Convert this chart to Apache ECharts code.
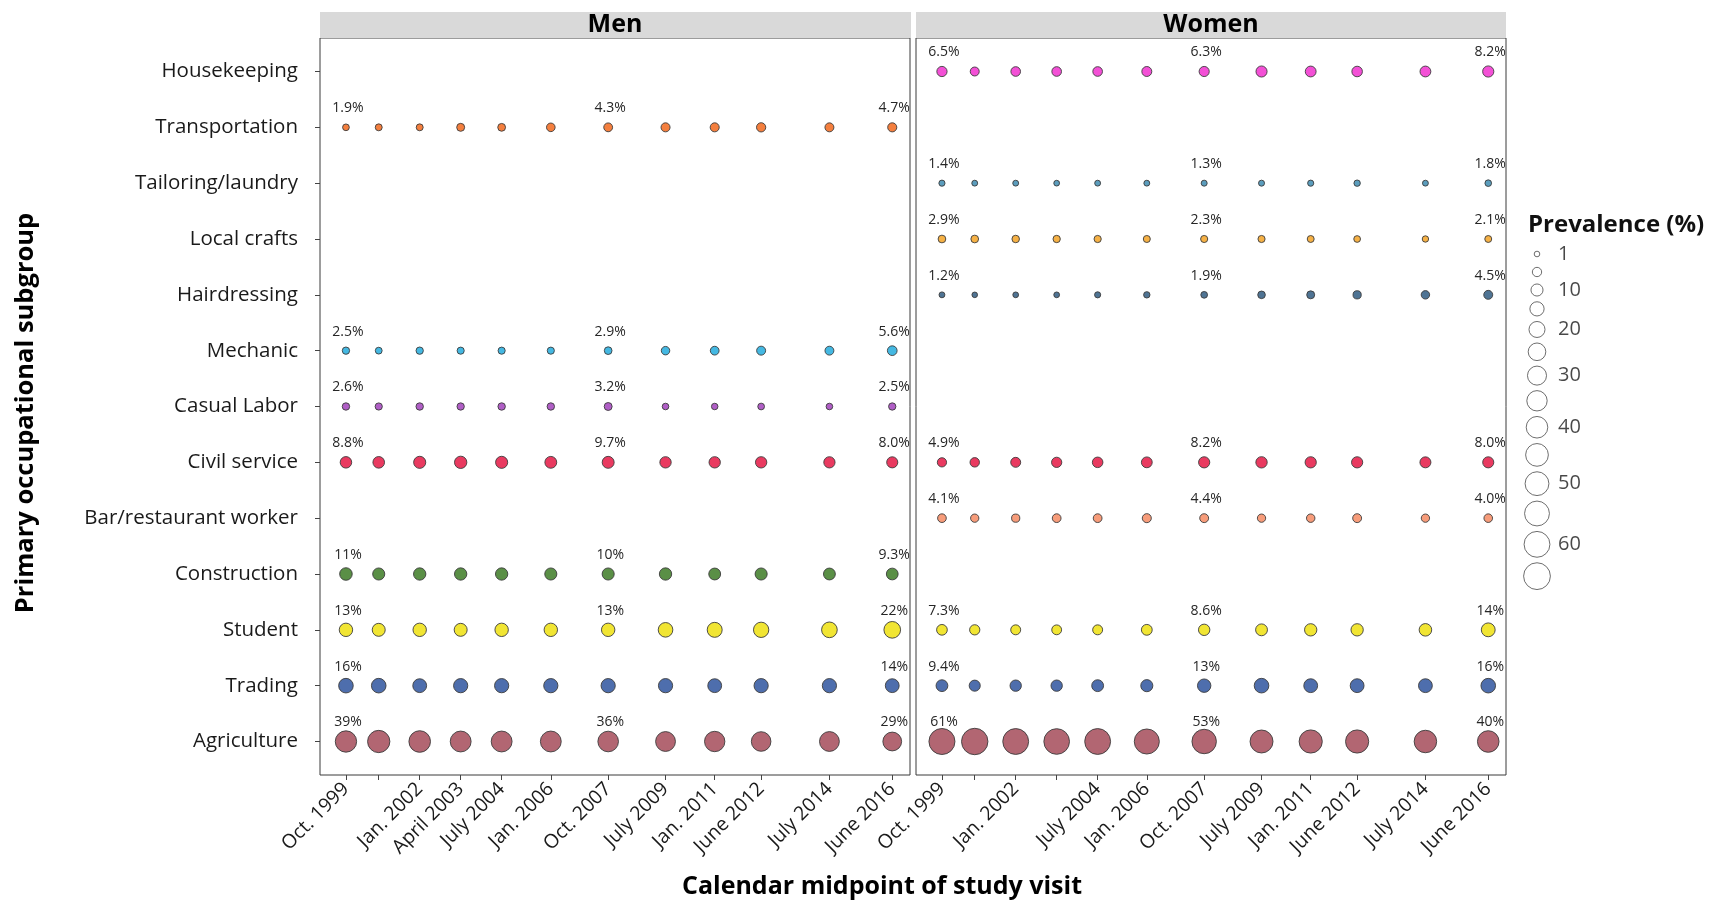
<!DOCTYPE html>
<html><head><meta charset="utf-8">
<script src="https://cdn.jsdelivr.net/npm/echarts@6/dist/echarts.min.js"></script>
<style>html,body{margin:0;padding:0;background:#fff}#c{width:1727px;height:908px}</style>
</head><body><div id="c"></div>
<script>
// ---------------- data ----------------
const categories = ['Housekeeping','Transportation','Tailoring/laundry','Local crafts','Hairdressing','Mechanic','Casual Labor','Civil service','Bar/restaurant worker','Construction','Student','Trading','Agriculture'];
const visitDates = ['1999-10','2000-10','2002-01','2003-04','2004-07','2006-01','2007-10','2009-07','2011-01','2012-06','2014-07','2016-06'];
const menTickLabels   = ['Oct. 1999','','Jan. 2002','April 2003','July 2004','Jan. 2006','Oct. 2007','July 2009','Jan. 2011','June 2012','July 2014','June 2016'];
const womenTickLabels = ['Oct. 1999','','Jan. 2002','','July 2004','Jan. 2006','Oct. 2007','July 2009','Jan. 2011','June 2012','July 2014','June 2016'];
const legendValues = [1,5,10,15,20,25,30,35,40,45,50,55,60,65];
const legendLabelValues = [1,10,20,30,40,50,60];

// Men (prevalence %, one value per visit)
const menTransportation = [1.9,2.1,2.1,3.2,3.0,4.0,4.3,4.6,4.6,4.9,4.5,4.7];
const menMechanic       = [2.5,2.0,2.5,2.3,2.3,2.3,2.9,3.8,4.2,4.5,4.4,5.6];
const menCasualLabor    = [2.6,2.4,2.6,2.5,2.6,2.6,3.2,1.8,1.7,1.9,1.8,2.5];
const menCivilService   = [8.8,9.0,10.0,10.5,10.0,9.5,9.7,8.5,8.5,8.5,8.3,8.0];
const menConstruction   = [11,10,10.5,10.5,10.5,10,10,10.5,9.5,10,9.5,9.3];
const menStudent        = [13,12,13,12,13,13,13,16,17,18,19,22];
const menTrading        = [16,16,14,15,15,15,15,15,14,15,15,14];
const menAgriculture    = [39,43,40,37,37,37,36,33,35,32,33,29];

// Women
const womenHousekeeping  = [6.5,4.5,5.5,5.5,5.5,6.0,6.3,8.0,7.5,7.0,7.5,8.2];
const womenTailoring     = [1.4,1.2,1.2,1.1,1.2,1.2,1.3,1.3,1.4,1.6,1.2,1.8];
const womenLocalCrafts   = [2.9,2.9,2.7,2.5,2.4,2.2,2.3,2.3,2.1,1.9,1.6,2.1];
const womenHairdressing  = [1.2,1.0,1.1,1.1,1.4,1.6,1.9,2.8,3.2,3.5,3.8,4.5];
const womenCivilService  = [4.9,5.2,6.0,6.5,7.0,7.5,8.2,8.5,8.3,8.2,7.8,8.0];
const womenBarRestaurant = [4.1,3.6,3.5,4.2,4.2,4.6,4.4,3.6,3.8,4.4,3.6,4.0];
const womenStudent       = [7.3,6.5,6.0,5.8,6.0,7.5,8.6,9.5,10.5,10.5,11,14];
const womenTrading       = [9.4,8.0,8.5,8.5,9.5,10,13,16,14,14,14,16];
const womenAgriculture   = [61,63,60,59,60,56,53,46,47,47,44,40];

// which visits carry a value label
const defaultLabelVisits = [0,6,11];
const menTradingLabelVisits = [0,11];

const menRows = [
  ['Transportation', menTransportation],
  ['Mechanic', menMechanic],
  ['Casual Labor', menCasualLabor],
  ['Civil service', menCivilService],
  ['Construction', menConstruction],
  ['Student', menStudent],
  ['Trading', menTrading, menTradingLabelVisits],
  ['Agriculture', menAgriculture]
];
const womenRows = [
  ['Housekeeping', womenHousekeeping],
  ['Tailoring/laundry', womenTailoring],
  ['Local crafts', womenLocalCrafts],
  ['Hairdressing', womenHairdressing],
  ['Civil service', womenCivilService],
  ['Bar/restaurant worker', womenBarRestaurant],
  ['Student', womenStudent],
  ['Trading', womenTrading],
  ['Agriculture', womenAgriculture]
];

// ---------------- styles ----------------
const colors = {
  'Housekeeping':'#f350d6','Transportation':'#f47f3e','Tailoring/laundry':'#5b9dbd','Local crafts':'#f6b145',
  'Hairdressing':'#4f7494','Mechanic':'#44b8e2','Casual Labor':'#b05ec6','Civil service':'#e93a60',
  'Bar/restaurant worker':'#f79c7a','Construction':'#5a8f46','Student':'#f1e533','Trading':'#4e6ead','Agriculture':'#b26672'
};
const FONT = "'Open Sans', 'Noto Sans', sans-serif";
const TXT = '#1a1a1a';

function decYear(s){ const p = s.split('-').map(Number); return p[0] + (p[1]-0.5)/12; }
const xs = visitDates.map(decYear);
function sizeOf(v){ return 2.6 + 3.0*Math.sqrt(v); }
function fmt(v){ return v < 10 ? v.toFixed(1) + '%' : Math.round(v) + '%'; }
function tickLabelFor(labels){
  return function(val){
    for (let i = 0; i < xs.length; i++) if (Math.abs(xs[i]-val) < 1e-6) return labels[i];
    return '';
  };
}

function makeSeries(idx, cat, values, labelVisits){
  const lv = labelVisits || defaultLabelVisits;
  return {
    type:'scatter', xAxisIndex:idx, yAxisIndex:idx, name:cat, animation:false,
    data: values.map((v,i)=>({value:[xs[i], categories.indexOf(cat), v], label:{show: lv.indexOf(i) >= 0}})),
    symbolSize: d => sizeOf(d[2]),
    itemStyle:{color:colors[cat], borderColor:'#3c3c3c', borderWidth:0.9, opacity:1},
    label:{position:'inside', offset:[2,-19], formatter: p => fmt(p.value[2]),
      fontFamily:FONT, fontSize:14, color:'#262626', textBorderWidth:0},
    emphasis:{disabled:true}, silent:true
  };
}

// legend key layout (ggplot-style key heights grow with symbol size)
const keyH = legendValues.map(v => Math.max(18, sizeOf(v) + 5.5));
const keyPos = []; { let acc = 0; keyH.forEach((h,i)=>{ keyPos.push(acc + h/2); acc += h; }); }
const keyTotal = keyH.reduce((a,b)=>a+b,0);

function panelX(idx, labels){
  const labelVals = xs.filter((x,i)=>labels[i] !== '');
  return {
    type:'value', gridIndex:idx, min:1999, max:2017, scale:false, position:'bottom',
    axisLine:{show:false, onZero:false}, splitLine:{show:false},
    axisTick:{show:true, customValues: xs, length:5, lineStyle:{color:'#444', width:1}},
    axisLabel:{show:true, customValues: labelVals, formatter: tickLabelFor(labels), rotate:45,
      fontFamily:FONT, fontSize:19.5, color:TXT, margin:11}
  };
}
function panelY(idx, showLabels){
  const vals = categories.map((c,i)=>i);
  return {
    type:'value', gridIndex:idx, min:-0.6, max:12.6, inverse:true, position:'left',
    axisLine:{show:false, onZero:false}, splitLine:{show:false},
    axisTick:{show:showLabels, customValues: vals, length:5, lineStyle:{color:'#444', width:1}},
    axisLabel:{show:showLabels, customValues: vals, formatter: v => categories[Math.round(v)] || '',
      fontFamily:FONT, fontSize:20.5, color:TXT, margin:22}
  };
}

const series = [];
menRows.forEach(r => series.push(makeSeries(0, r[0], r[1], r[2])));
womenRows.forEach(r => series.push(makeSeries(1, r[0], r[1], r[2])));
series.push({
  type:'scatter', xAxisIndex:2, yAxisIndex:2, animation:false, silent:true,
  data: legendValues.map((v,i)=>({value:[0.5, keyPos[i], v], label:{show: legendLabelValues.indexOf(v) >= 0}})),
  symbolSize: d => sizeOf(d[2]),
  itemStyle:{color:'#ffffff', borderColor:'#4a4a4a', borderWidth:1},
  label:{position:'inside', align:'left', offset:[21,0], formatter: p => String(p.value[2]),
    fontFamily:FONT, fontSize:20, color:TXT}
});

const chart = echarts.init(document.getElementById('c'), null, {renderer:'canvas'});
chart.setOption({
  backgroundColor:'#ffffff',
  animation:false,
  textStyle:{fontFamily:FONT},
  title:{text:'Prevalence (%)', left:1523, top:208, textStyle:{fontFamily:FONT, fontSize:24, fontWeight:'bold', color:'#111'}},
  grid:[
    {left:320, right:817, top:38, bottom:133, show:true, borderColor:'#3a3a3a', borderWidth:1, backgroundColor:'#fff', containLabel:false},
    {left:916, right:221, top:38, bottom:133, show:true, borderColor:'#3a3a3a', borderWidth:1, backgroundColor:'#fff', containLabel:false},
    {left:1517, width:40, top:245, height:keyTotal, show:false, containLabel:false}
  ],
  xAxis:[ panelX(0, menTickLabels), panelX(1, womenTickLabels),
    {type:'value', gridIndex:2, min:0, max:1, show:false} ],
  yAxis:[ panelY(0, true), panelY(1, false),
    {type:'value', gridIndex:2, min:0, max:keyTotal, inverse:true, show:false} ],
  graphic:[
    {type:'rect', shape:{x:320, y:12, width:591, height:26}, style:{fill:'#d9d9d9'}, silent:true},
    {type:'rect', shape:{x:916, y:12, width:590, height:26}, style:{fill:'#d9d9d9'}, silent:true},
    {type:'text', x:615, y:25, style:{text:'Men', font:"bold 25px 'Open Sans'", fill:'#000', textAlign:'center', textVerticalAlign:'middle'}, silent:true},
    {type:'text', x:1211, y:25, style:{text:'Women', font:"bold 25px 'Open Sans'", fill:'#000', textAlign:'center', textVerticalAlign:'middle'}, silent:true},
    {type:'text', x:882, y:887, style:{text:'Calendar midpoint of study visit', font:"bold 25px 'Open Sans'", fill:'#000', textAlign:'center', textVerticalAlign:'middle'}, silent:true},
    {type:'text', x:26, y:413, rotation:Math.PI/2, style:{text:'Primary occupational subgroup', font:"bold 25.5px 'Open Sans'", fill:'#000', textAlign:'center', textVerticalAlign:'middle'}, silent:true}
  ],
  series: series
});
</script>
</body></html>
